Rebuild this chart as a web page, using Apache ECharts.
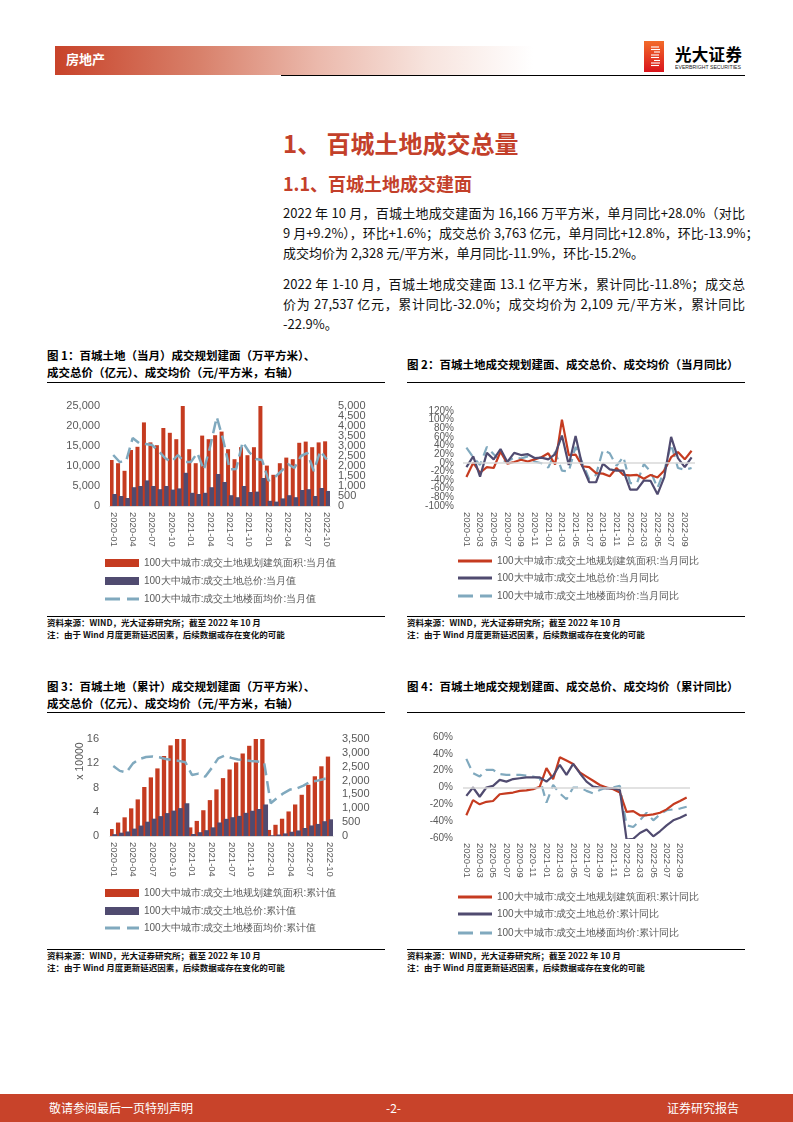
<!DOCTYPE html>
<html><head><meta charset="utf-8">
<script src="https://cdn.jsdelivr.net/npm/echarts@6.0.0/dist/echarts.min.js"></script>
<style>
html,body{margin:0;padding:0;background:#fff}
body{width:793px;height:1122px;position:relative;overflow:hidden;font-family:"Noto Sans CJK SC","Liberation Sans",sans-serif;color:#000}
.a{position:absolute;white-space:nowrap}
.hdr{left:55px;top:46px;width:478px;height:29px;background:linear-gradient(to right,#C8432A 0%,#D8806A 30%,#EBB9AC 55%,#F7E4DE 78%,#ffffff 100%)}
.hdrt{left:66px;top:51px;font-size:13px;font-weight:bold;color:#fff;line-height:16px}
.hl{left:281px;top:74.5px;width:464px;height:1px;background:#000}
.t1{left:283px;top:130px;font-size:24px;font-weight:bold;color:#C3402A;line-height:26px}
.t2{left:283px;top:172px;font-size:18px;font-weight:bold;color:#C3402A;line-height:22px}
.p{left:283px;width:462px;font-size:13px;line-height:20px;height:20px;color:#111}
.j{text-align:justify;text-align-last:justify}
.ft{font-size:11.5px;font-weight:bold;line-height:15px;color:#000}
.ul{height:1px;background:#000}
.src{font-size:8.5px;font-weight:bold;line-height:11px;color:#111}
.chart{position:absolute;width:360px;height:225px}
.foot{left:0;top:1094px;width:793px;height:28px;background:#C8432A}
.fw{top:1100px;font-size:12px;color:#fff;line-height:16px}
</style></head><body>

<div class="a hdr"></div>
<div class="a hdrt">房地产</div>
<div class="a hl"></div>
<svg class="a" style="left:644px;top:41px" width="20" height="31" viewBox="0 0 20 31">
<defs><linearGradient id="lg" x1="0" y1="0" x2="0" y2="1"><stop offset="0" stop-color="#F26B2A"/><stop offset="1" stop-color="#D9141C"/></linearGradient></defs>
<rect x="0" y="0" width="20" height="31" fill="url(#lg)"/>
<g stroke="#fff" stroke-width="1.1">
<line x1="7" y1="6" x2="15" y2="6"/><line x1="7" y1="8.5" x2="16" y2="8.5"/><line x1="10" y1="11" x2="16" y2="11"/>
<line x1="7" y1="14" x2="15" y2="14"/><line x1="7" y1="16.5" x2="15" y2="16.5"/>
<line x1="10" y1="19.5" x2="16" y2="19.5"/><line x1="7" y1="22" x2="16" y2="22"/><line x1="7" y1="24.5" x2="15" y2="24.5"/>
</g></svg>
<div class="a" style="left:675px;top:44px;font-size:16.5px;font-weight:bold;line-height:20px;letter-spacing:0.3px">光大证券</div>
<svg class="a" style="left:675px;top:63px" width="68" height="7"><text x="0" y="5.5" font-size="5.6" font-family="Liberation Sans" textLength="66" lengthAdjust="spacingAndGlyphs" fill="#222">EVERBRIGHT SECURITIES</text></svg>

<div class="a t1">1、 百城土地成交总量</div>
<div class="a t2">1.1、百城土地成交建面</div>

<div class="a p j" style="top:203px">2022 年 10 月，百城土地成交建面为 16,166 万平方米，单月同比+28.0%（对比</div>
<div class="a p j" style="top:223px">9 月+9.2%），环比+1.6%；成交总价 3,763 亿元，单月同比+12.8%，环比-13.9%；</div>
<div class="a p" style="top:243px">成交均价为 2,328 元/平方米，单月同比-11.9%，环比-15.2%。</div>
<div class="a p j" style="top:274px">2022 年 1-10 月，百城土地成交建面 13.1 亿平方米，累计同比-11.8%；成交总</div>
<div class="a p j" style="top:294px">价为 27,537 亿元，累计同比-32.0%；成交均价为 2,109 元/平方米，累计同比</div>
<div class="a p" style="top:314px">-22.9%。</div>

<div class="a ft" style="left:47px;top:348px">图 1：百城土地（当月）成交规划建面（万平方米）、</div>
<div class="a ft" style="left:47px;top:365px">成交总价（亿元）、成交均价（元/平方米，右轴）</div>
<div class="a ul" style="left:47px;top:381.5px;width:338px"></div>
<div class="a ft" style="left:407px;top:357px">图 2：百城土地成交规划建面、成交总价、成交均价（当月同比）</div>
<div class="a ul" style="left:407px;top:381.5px;width:338px"></div>

<div id="c1" class="chart" style="left:40px;top:390px"></div>
<div id="c2" class="chart" style="left:400px;top:390px"></div>

<div class="a ul" style="left:47px;top:616px;width:338px"></div>
<div class="a src" style="left:47px;top:617px">资料来源：WIND，光大证券研究所；截至 2022 年 10 月</div>
<div class="a src" style="left:47px;top:629px">注：由于 Wind 月度更新延迟因素，后续数据或存在变化的可能</div>
<div class="a ul" style="left:407px;top:616px;width:338px"></div>
<div class="a src" style="left:407px;top:617px">资料来源：WIND，光大证券研究所；截至 2022 年 10 月</div>
<div class="a src" style="left:407px;top:629px">注：由于 Wind 月度更新延迟因素，后续数据或存在变化的可能</div>

<div class="a ft" style="left:47px;top:679px">图 3：百城土地（累计）成交规划建面（万平方米）、</div>
<div class="a ft" style="left:47px;top:696px">成交总价（亿元）、成交均价（元/平方米，右轴）</div>
<div class="a ul" style="left:47px;top:711.5px;width:338px"></div>
<div class="a ft" style="left:407px;top:679px">图 4：百城土地成交规划建面、成交总价、成交均价（累计同比）</div>
<div class="a ul" style="left:407px;top:711.5px;width:338px"></div>

<div id="c3" class="chart" style="left:40px;top:720px"></div>
<div id="c4" class="chart" style="left:400px;top:720px"></div>

<div class="a ul" style="left:47px;top:949px;width:338px"></div>
<div class="a src" style="left:47px;top:950px">资料来源：WIND，光大证券研究所；截至 2022 年 10 月</div>
<div class="a src" style="left:47px;top:962px">注：由于 Wind 月度更新延迟因素，后续数据或存在变化的可能</div>
<div class="a ul" style="left:407px;top:949px;width:338px"></div>
<div class="a src" style="left:407px;top:950px">资料来源：WIND，光大证券研究所；截至 2022 年 10 月</div>
<div class="a src" style="left:407px;top:962px">注：由于 Wind 月度更新延迟因素，后续数据或存在变化的可能</div>

<div class="a foot"></div>
<div class="a fw" style="left:49px">敬请参阅最后一页特别声明</div>
<div class="a fw" style="left:386px">-2-</div>
<div class="a fw" style="left:667px">证券研究报告</div>

<script>
// ---------- DATA ----------
const months = ['2020-01','2020-02','2020-03','2020-04','2020-05','2020-06','2020-07','2020-08','2020-09','2020-10','2020-11','2020-12',
  '2021-01','2021-02','2021-03','2021-04','2021-05','2021-06','2021-07','2021-08','2021-09','2021-10','2021-11','2021-12',
  '2022-01','2022-02','2022-03','2022-04','2022-05','2022-06','2022-07','2022-08','2022-09','2022-10'];

// Fig 1: monthly values
const monthlyArea = [11500,10700,8800,14000,14800,20900,15900,15200,19500,18300,16700,37000,
  14200,10700,17600,16700,17700,18600,14200,11700,14700,12700,14700,30000,
  10100,7800,10700,12100,11700,15800,16100,14700,15900,16166];
const monthlyPrice = [3000,2500,2000,4700,5000,6400,5000,4200,5000,4100,4400,8300,
  3300,3000,3300,4700,8000,6000,2700,2200,5000,3500,3600,7000,
  1300,1100,1900,2700,2200,4000,4200,2500,4500,3763];
const monthlyAvgPrice = [2550,2200,2250,3400,3150,3100,3050,2750,2400,2200,2550,2200,
  2200,2650,1800,3000,4450,3300,1830,1850,3200,2700,2350,2300,
  1270,1450,1750,2100,1900,2500,2650,1750,2750,2328];

// Fig 2: monthly YoY (%)
const monthlyAreaYoY = [-33,0,-23,-10,-12,26,-2,2,7,3,8,13,
  22,-4,100,18,19,-8,-10,-24,-25,-31,-12,-28,
  -29,-28,-37,-28,-34,-18,13,25,8,28];
const monthlyPriceYoY = [-10,15,-32,23,8,32,2,23,18,20,11,12,
  8,20,63,-5,62,-8,-45,-45,-2,-15,-18,-18,
  -62,-62,-41,-42,-73,-33,60,11,-10,12.8];
const monthlyAvgYoY = [35,13,-5,37,20,5,3,12,10,15,3,-1,
  -11,25,-18,-20,37,0,-38,-28,30,22,-7,14,
  -47,-47,-3,-20,-58,-18,43,-12,-16,-11.9];

// Fig 3: cumulative values (area & total price in 10000 units on left axis)
const cumArea = [1.15,2.22,3.08,4.56,6.04,8.08,9.67,11.15,13.2,14.95,16.7,20.4,
  1.42,2.49,4.25,5.92,7.69,9.55,10.97,12.14,13.61,14.88,16.35,19.35,
  1.0,1.85,2.85,4.05,5.2,6.8,8.45,9.85,11.5,13.1];
const cumPrice = [0.30,0.55,0.75,1.22,1.72,2.36,2.86,3.28,3.78,4.19,4.6,5.4,
  0.33,0.63,0.96,1.43,2.23,2.83,3.10,3.32,3.82,4.17,4.45,5.2,
  0.13,0.24,0.43,0.70,0.92,1.32,1.74,1.99,2.44,2.75];
const cumAvgPrice = [2530,2350,2290,2620,2780,2850,2870,2840,2780,2740,2710,2660,
  2200,2250,2140,2450,2800,2900,2820,2760,2740,2710,2690,2660,
  1180,1380,1550,1680,1720,1820,1960,1990,2050,2109];

// Fig 4: cumulative YoY (%)
const cumAreaYoY = [-33,-15,-20,-17,-16,-8,-7,-6,-4,-3.5,-2,1,
  23,10,36,32,28,18,13,8,3,0,-2,-6,
  -29,-28,-33,-33,-32,-30,-26,-20,-16,-11.8];
const cumPriceYoY = [-10,0,-11,0,2,9,7,10,11,12,12,12,
  7,14,27,15,28,17,7,1,0,-1,-1,-3,
  -62,-61,-54,-50,-58,-52,-45,-39,-36,-32];
const cumAvgYoY = [34,17,13,21,21,16,15,15,15,14,13,11,
  -18,3,-7,-14,0,0,-4,-7,-3,0,0,2,
  -45,-47,-39,-30,-39,-32,-27,-26,-25,-22.9];

// Axis ranges and tick labels (bottom to top)
const leftTicks1 = {min:0,max:25000,interval:5000};
const rightTicks1 = {min:0,max:5000,interval:500};
const ticks2 = {min:-100,max:120,interval:20};
const leftTicks3 = {min:0,max:16,interval:4};
const rightTicks3 = {min:0,max:3500,interval:500};
const ticks4 = {min:-60,max:60,interval:20};
const tickLabels1L = ['0','5,000','10,000','15,000','20,000','25,000'];
const tickLabels1R = ['0','500','1,000','1,500','2,000','2,500','3,000','3,500','4,000','4,500','5,000'];
const tickLabels2 = ['-100%','-80%','-60%','-40%','-20%','0%','20%','40%','60%','80%','100%','120%'];
const tickLabels3L = ['0','4','8','12','16'];
const tickLabels3R = ['0','500','1,000','1,500','2,000','2,500','3,000','3,500'];
const tickLabels4 = ['-60%','-40%','-20%','0%','20%','40%','60%'];

const namesMonthly = ['100大中城市:成交土地规划建筑面积:当月值','100大中城市:成交土地总价:当月值','100大中城市:成交土地楼面均价:当月值'];
const namesMonthlyYoY = ['100大中城市:成交土地规划建筑面积:当月同比','100大中城市:成交土地总价:当月同比','100大中城市:成交土地楼面均价:当月同比'];
const namesCum = ['100大中城市:成交土地规划建筑面积:累计值','100大中城市:成交土地总价:累计值','100大中城市:成交土地楼面均价:累计值'];
const namesCumYoY = ['100大中城市:成交土地规划建筑面积:累计同比','100大中城市:成交土地总价:累计同比','100大中城市:成交土地楼面均价:累计同比'];

// ---------- STYLE ----------
const RED = '#C53B20', NAVY = '#504B70', LIGHT = '#80A9BE', GREY = '#595959', AXIS = '#D9D9D9';
const FONT = 'Liberation Sans';
const ICON_SOLID = 'path://M0,0H34V3H0Z';
const ICON_DASH = 'path://M0,0H15V3H0Z M22,0H34V3H22Z';

function xAxisOf(interval, margin) {
  return {type:'category', data: months, boundaryGap:true,
    axisLine:{show:true, onZero:false, lineStyle:{color:AXIS, width:1.2}},
    axisTick:{show:false}, splitLine:{show:false},
    axisLabel:{interval: interval, rotate:-90, margin: margin, fontSize:9.5, color:GREY, fontFamily:FONT, hideOverlap:false}};
}
// value axis that carries the data (labels drawn by a companion label axis)
function valueAxis(t, pos) {
  return Object.assign({type:'value', position:pos, axisLine:{show:false}, axisTick:{show:false}, splitLine:{show:false},
    axisLabel:{show:false}}, t);
}
// label axis: evenly spaced tick labels aligned with the value axis ticks
function labelAxis(labels, pos, fs, margin) {
  return {type:'category', data: labels, position:pos, boundaryGap:false,
    axisLine:{show:false}, axisTick:{show:false}, splitLine:{show:false},
    axisLabel:{interval:0, fontSize:fs, color:GREY, fontFamily:FONT, margin:margin, hideOverlap:false}};
}
function legends(names, left, tops, kinds) {
  return names.map((n,k)=>{
    const kind = kinds[k];
    const icon = kind==='bar' ? 'rect' : (kind==='dash' ? ICON_DASH : ICON_SOLID);
    return {data:[{name:n, icon:icon}], left:left, top:tops[k], orient:'vertical',
      itemWidth:34, itemHeight: kind==='bar' ? 8 : 3, itemGap:0, padding:0, selectedMode:false,
      textStyle:{fontSize:10, color:GREY, fontFamily:FONT, lineHeight:12, padding:[0,0,0,0]}};
  });
}
const zeroLine = {silent:true, symbol:'none', label:{show:false}, animation:false,
  lineStyle:{color:AXIS, width:1.5, type:'solid'}, data:[{yAxis:0}]};

// ---------- CHART 1 ----------
const c1 = echarts.init(document.getElementById('c1'), null, {renderer:'canvas'});
c1.setOption({
  animation:false,
  grid:{left:70, top:16, width:220, height:100, containLabel:false, outerBoundsMode:'none'},
  xAxis: xAxisOf(2, 6),
  yAxis:[valueAxis(leftTicks1,'left'), valueAxis(rightTicks1,'right'),
         labelAxis(tickLabels1L,'left',11,10), labelAxis(tickLabels1R,'right',11,8)],
  legend: legends(namesMonthly, 65, [167,185,203], ['bar','bar','dash']),
  series:[
    {type:'bar', name:namesMonthly[0], data:monthlyArea, yAxisIndex:0, barWidth:4, barGap:'-30%', itemStyle:{color:RED}, clip:true},
    {type:'bar', name:namesMonthly[1], data:monthlyPrice, yAxisIndex:0, barWidth:4.5, barGap:'-30%', itemStyle:{color:NAVY}, clip:true},
    {type:'line', name:namesMonthly[2], data:monthlyAvgPrice, yAxisIndex:1, symbol:'none', lineStyle:{color:LIGHT, width:2.5, type:[12,6]}, itemStyle:{color:LIGHT}}
  ]
});

// ---------- CHART 2 ----------
const c2 = echarts.init(document.getElementById('c2'), null, {renderer:'canvas'});
const x2 = xAxisOf(1, 6); x2.axisLine.show = false;
c2.setOption({
  animation:false,
  grid:{left:63, top:21, width:232, height:95, containLabel:false, outerBoundsMode:'none'},
  xAxis: x2,
  yAxis: [valueAxis(ticks2,'left'), labelAxis(tickLabels2,'left',10,9)],
  legend: legends(namesMonthlyYoY, 58, [165,182,200], ['line','line','dash']),
  series:[
    {type:'line', name:namesMonthlyYoY[0], data:monthlyAreaYoY, symbol:'none', lineStyle:{color:RED, width:2.2}, itemStyle:{color:RED}, z:3, markLine:zeroLine},
    {type:'line', name:namesMonthlyYoY[1], data:monthlyPriceYoY, symbol:'none', lineStyle:{color:NAVY, width:2.2}, itemStyle:{color:NAVY}, z:4},
    {type:'line', name:namesMonthlyYoY[2], data:monthlyAvgYoY, symbol:'none', lineStyle:{color:LIGHT, width:2.2, type:[10,6]}, itemStyle:{color:LIGHT}, z:2}
  ]
});

// ---------- CHART 3 ----------
const c3 = echarts.init(document.getElementById('c3'), null, {renderer:'canvas'});
c3.setOption({
  animation:false,
  grid:{left:70, top:19, width:223, height:97, containLabel:false, outerBoundsMode:'none'},
  xAxis: xAxisOf(2, 6),
  yAxis:[valueAxis(leftTicks3,'left'), valueAxis(rightTicks3,'right'),
         labelAxis(tickLabels3L,'left',11,11), labelAxis(tickLabels3R,'right',11,9)],
  legend: legends(namesCum, 65, [167,185,202], ['bar','bar','dash']),
  graphic:[{type:'text', x:40, y:41, rotation:Math.PI/2,
    style:{text:'x 10000', fontSize:10.5, fill:GREY, fontFamily:FONT, align:'center', verticalAlign:'middle'}}],
  series:[
    {type:'bar', name:namesCum[0], data:cumArea, yAxisIndex:0, barWidth:4.3, barGap:'-30%', itemStyle:{color:RED}, clip:true},
    {type:'bar', name:namesCum[1], data:cumPrice, yAxisIndex:0, barWidth:4.8, barGap:'-30%', itemStyle:{color:NAVY}, clip:true},
    {type:'line', name:namesCum[2], data:cumAvgPrice, yAxisIndex:1, symbol:'none', lineStyle:{color:LIGHT, width:2.5, type:[12,6]}, itemStyle:{color:LIGHT}}
  ]
});

// ---------- CHART 4 ----------
const c4 = echarts.init(document.getElementById('c4'), null, {renderer:'canvas'});
const x4 = xAxisOf(1, 5); x4.axisLine.show = false;
c4.setOption({
  animation:false,
  grid:{left:63, top:17, width:227, height:101, containLabel:false, outerBoundsMode:'none'},
  xAxis: x4,
  yAxis: [valueAxis(ticks4,'left'), labelAxis(tickLabels4,'left',10,10)],
  legend: legends(namesCumYoY, 58, [171,188,207], ['line','line','dash']),
  series:[
    {type:'line', name:namesCumYoY[0], data:cumAreaYoY, symbol:'none', lineStyle:{color:RED, width:2.2}, itemStyle:{color:RED}, z:3, markLine:zeroLine, clip:true},
    {type:'line', name:namesCumYoY[1], data:cumPriceYoY, symbol:'none', lineStyle:{color:NAVY, width:2.2}, itemStyle:{color:NAVY}, z:4, clip:true},
    {type:'line', name:namesCumYoY[2], data:cumAvgYoY, symbol:'none', lineStyle:{color:LIGHT, width:2.2, type:[10,6]}, itemStyle:{color:LIGHT}, z:2, clip:true}
  ]
});
</script>
</body></html>
